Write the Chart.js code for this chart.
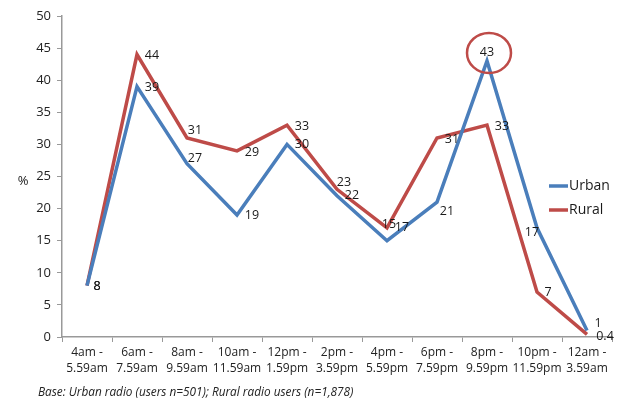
<!DOCTYPE html>
<html>
<head>
<meta charset="utf-8">
<script src="https://cdn.jsdelivr.net/npm/chart.js@4.4.0/dist/chart.umd.min.js"></script>
<style>
    html, body { margin: 0; padding: 0; background: #fff; }
    #wrap { width: 618px; height: 402px; position: relative; }
</style>
</head>
<body>
<div id="wrap"><canvas id="radioChart" width="618" height="402"></canvas></div>
<script>
const timeSlots = [
    ['4am -', '5.59am'], ['6am -', '7.59am'], ['8am -', '9.59am'],
    ['10am -', '11.59am'], ['12pm -', '1.59pm'], ['2pm -', '3.59pm'],
    ['4pm -', '5.59pm'], ['6pm -', '7.59pm'], ['8pm -', '9.59pm'],
    ['10pm -', '11.59pm'], ['12am -', '3.59am']
];
const urbanValues = [8, 39, 27, 19, 30, 22, 15, 21, 43, 17, 1];
const ruralValues = [8, 44, 31, 29, 33, 23, 17, 31, 33, 7, 0.4];
const yTicks = [0, 5, 10, 15, 20, 25, 30, 35, 40, 45, 50];
const footnote = 'Base: Urban radio (users n=501); Rural radio users (n=1,878)';

const URBAN_COLOR = '#4a7ebb';
const RURAL_COLOR = '#be4b48';
const FONT = '"Open Sans", "Noto Sans", sans-serif';

// label centre offsets from each point (style only)
const urbanLabelOffsets = [[10, 1], [15, 1], [8, -5], [15, 0], [15, 0], [15, 0], [2, -16], [10, 9], [0, -9], [-5, 5], [11, -7]];
const ruralLabelOffsets = [[10, 1], [15, 1], [8, -8], [15, 2], [15, 1], [7, -7], [15, 0], [15, 1], [15, 1], [11, 0], [18, 2]];

const extrasPlugin = {
    id: 'extras',
    afterDatasetsDraw(chart) {
        const ctx = chart.ctx;
        const x = chart.scales.x;
        const y = chart.scales.y;
        ctx.save();

        // data labels
        ctx.font = '12.5px ' + FONT;
        ctx.fillStyle = '#1a1a1a';
        ctx.textAlign = 'center';
        ctx.textBaseline = 'middle';
        const sets = [[urbanValues, urbanLabelOffsets], [ruralValues, ruralLabelOffsets]];
        sets.forEach(([vals, offs]) => {
            vals.forEach((v, i) => {
                const px = x.getPixelForValue(i);
                const py = y.getPixelForValue(v);
                ctx.fillText(String(v), px + offs[i][0], py + offs[i][1]);
            });
        });

        // circle around the urban peak
        const peak = urbanValues.indexOf(Math.max(...urbanValues));
        const cx = x.getPixelForValue(peak) + 2;
        const cy = y.getPixelForValue(urbanValues[peak]) - 8;
        ctx.beginPath();
        ctx.ellipse(cx, cy, 22, 20, 0, 0, Math.PI * 2);
        ctx.strokeStyle = RURAL_COLOR;
        ctx.lineWidth = 2.5;
        ctx.stroke();

        // legend
        ctx.font = '14px ' + FONT;
        ctx.textAlign = 'left';
        ctx.lineWidth = 3.5;
        [['Urban', URBAN_COLOR, 186], ['Rural', RURAL_COLOR, 210]].forEach(([name, col, ly]) => {
            ctx.beginPath();
            ctx.moveTo(549, ly);
            ctx.lineTo(568, ly);
            ctx.strokeStyle = col;
            ctx.stroke();
            ctx.fillStyle = '#1a1a1a';
            ctx.fillText(name, 569, ly);
        });

        // % axis label
        ctx.font = '13px ' + FONT;
        ctx.textAlign = 'center';
        ctx.fillText('%', 23, 181);

        // footnote
        ctx.font = 'italic 11.8px ' + FONT;
        ctx.textAlign = 'left';
        ctx.fillStyle = '#222';
        ctx.fillText(footnote, 38, 393);
        ctx.restore();
    }
};

const ctx = document.getElementById('radioChart').getContext('2d');

new Chart(ctx, {
    type: 'line',
    data: {
        labels: timeSlots,
        datasets: [
            {
                label: 'Urban',
                data: urbanValues,
                borderColor: URBAN_COLOR,
                borderWidth: 3.5,
                pointRadius: 0,
                tension: 0,
                fill: false
            },
            {
                label: 'Rural',
                data: ruralValues,
                borderColor: RURAL_COLOR,
                borderWidth: 3.5,
                pointRadius: 0,
                tension: 0,
                fill: false
            }
        ]
    },
    options: {
        responsive: false,
        animation: false,
        layout: { padding: { top: 16, right: 6, bottom: 0, left: 0 } },
        plugins: {
            legend: { display: false },
            tooltip: { enabled: false }
        },
        scales: {
            x: {
                offset: true,
                grid: {
                    offset: true,
                    drawOnChartArea: false,
                    drawTicks: true,
                    tickLength: 5,
                    color: '#999'
                },
                border: { color: '#999', width: 1.5 },
                ticks: {
                    autoSkip: false,
                    maxRotation: 0,
                    padding: 3,
                    color: '#222',
                    font: { family: FONT, size: 12, lineHeight: 1.3 }
                },
                afterFit(scale) { scale.height = 65; }
            },
            y: {
                min: 0,
                max: 50,
                afterBuildTicks(scale) {
                    scale.ticks = yTicks.map(v => ({ value: v }));
                },
                grid: {
                    drawOnChartArea: false,
                    drawTicks: true,
                    tickLength: 5,
                    color: '#999'
                },
                border: { color: '#999', width: 1.5 },
                ticks: {
                    padding: 6,
                    color: '#222',
                    font: { family: FONT, size: 13 }
                },
                afterFit(scale) { scale.width = 62; }
            }
        }
    },
    plugins: [extrasPlugin]
});
</script>
</body>
</html>
